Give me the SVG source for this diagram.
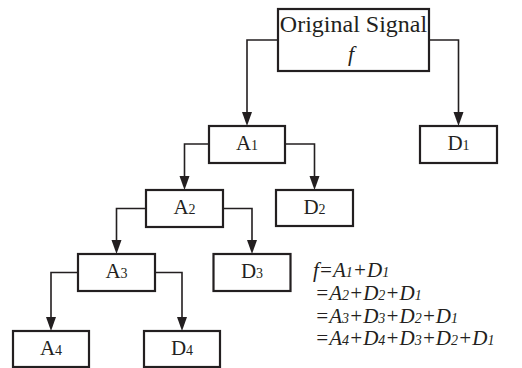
<svg xmlns="http://www.w3.org/2000/svg" width="522" height="368" viewBox="0 0 522 368">
<rect width="522" height="368" fill="#fff"/>
<g id="connectors" fill="none" stroke="#231f20" stroke-width="1.6">
<path d="M278,40 H247 V114"/>
<path d="M429,40 H458.5 V114"/>
<path d="M209,144 H184.5 V178"/>
<path d="M285,144 H314.5 V178"/>
<path d="M146,208.5 H116.5 V242"/>
<path d="M223,208.5 H252 V242"/>
<path d="M78,272.5 H51 V319"/>
<path d="M155,272.5 H182 V319"/>
<g fill="#231f20" stroke="none">
<polygon points="242,112 252,112 247,126"/>
<polygon points="453.5,112 463.5,112 458.5,126"/>
<polygon points="179.5,176 189.5,176 184.5,190"/>
<polygon points="309.5,176 319.5,176 314.5,190"/>
<polygon points="111.5,240 121.5,240 116.5,254"/>
<polygon points="247,240 257,240 252,254"/>
<polygon points="46,317 56,317 51,331"/>
<polygon points="177,317 187,317 182,331"/>
</g>
</g>
<g id="original">
<rect x="278" y="9" width="151" height="62" fill="#fff" stroke="#231f20" stroke-width="2.2"/>
<text x="353.5" y="32" text-anchor="middle" fill="#231f20" font-family="Liberation Serif" font-size="24">Original Signal</text>
<text x="351" y="61" text-anchor="middle" fill="#231f20" font-family="Liberation Serif" font-size="22" font-style="italic">f</text>
</g>
<g id="A1">
<rect x="209" y="126" width="76" height="37" fill="#fff" stroke="#231f20" stroke-width="2.2"/>
<text x="247" y="150" text-anchor="middle" fill="#231f20" font-family="Liberation Serif" font-size="21">A<tspan font-size="14">1</tspan></text>
</g>
<g id="D1">
<rect x="420" y="126" width="77" height="37" fill="#fff" stroke="#231f20" stroke-width="2.2"/>
<text x="458.5" y="150" text-anchor="middle" fill="#231f20" font-family="Liberation Serif" font-size="21">D<tspan font-size="14">1</tspan></text>
</g>
<g id="A2">
<rect x="146" y="190" width="77" height="37" fill="#fff" stroke="#231f20" stroke-width="2.2"/>
<text x="184.5" y="214" text-anchor="middle" fill="#231f20" font-family="Liberation Serif" font-size="21">A<tspan font-size="14">2</tspan></text>
</g>
<g id="D2">
<rect x="276" y="190" width="77" height="36" fill="#fff" stroke="#231f20" stroke-width="2.2"/>
<text x="314.5" y="214" text-anchor="middle" fill="#231f20" font-family="Liberation Serif" font-size="21">D<tspan font-size="14">2</tspan></text>
</g>
<g id="A3">
<rect x="78" y="254" width="77" height="37" fill="#fff" stroke="#231f20" stroke-width="2.2"/>
<text x="116.5" y="278" text-anchor="middle" fill="#231f20" font-family="Liberation Serif" font-size="21">A<tspan font-size="14">3</tspan></text>
</g>
<g id="D3">
<rect x="213.5" y="254" width="77" height="37" fill="#fff" stroke="#231f20" stroke-width="2.2"/>
<text x="252" y="278" text-anchor="middle" fill="#231f20" font-family="Liberation Serif" font-size="21">D<tspan font-size="14">3</tspan></text>
</g>
<g id="A4">
<rect x="13" y="331" width="76" height="36" fill="#fff" stroke="#231f20" stroke-width="2.2"/>
<text x="51" y="355" text-anchor="middle" fill="#231f20" font-family="Liberation Serif" font-size="21">A<tspan font-size="14">4</tspan></text>
</g>
<g id="D4">
<rect x="144" y="331" width="76" height="36" fill="#fff" stroke="#231f20" stroke-width="2.2"/>
<text x="182" y="355" text-anchor="middle" fill="#231f20" font-family="Liberation Serif" font-size="21">D<tspan font-size="14">4</tspan></text>
</g>
<g id="formula" fill="#231f20" font-family="Liberation Serif" font-size="21" font-style="italic">
<text x="313" y="277">f=A<tspan font-size="14">1</tspan>+D<tspan font-size="14">1</tspan></text>
<text x="315" y="300">=A<tspan font-size="14">2</tspan>+D<tspan font-size="14">2</tspan>+D<tspan font-size="14">1</tspan></text>
<text x="315" y="322.5">=A<tspan font-size="14">3</tspan>+D<tspan font-size="14">3</tspan>+D<tspan font-size="14">2</tspan>+D<tspan font-size="14">1</tspan></text>
<text x="315" y="345">=A<tspan font-size="14">4</tspan>+D<tspan font-size="14">4</tspan>+D<tspan font-size="14">3</tspan>+D<tspan font-size="14">2</tspan>+D<tspan font-size="14">1</tspan></text>
</g>
</svg>
